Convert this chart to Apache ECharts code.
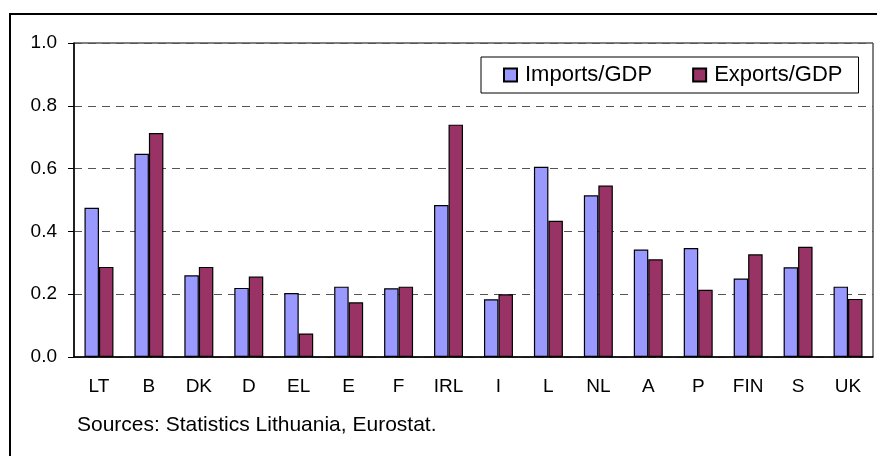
<!DOCTYPE html>
<html>
<head>
<meta charset="utf-8">
<script src="https://cdn.jsdelivr.net/npm/echarts@6/dist/echarts.min.js"></script>
<style>
  html, body { margin: 0; padding: 0; background: #fff; }
  #myChart { width: 877px; height: 456px; }
</style>
</head>
<body>
<div id="myChart"></div>
<script>
// countries (EU members + Lithuania)
const countries = ['LT', 'B', 'DK', 'D', 'EL', 'E', 'F', 'IRL', 'I', 'L', 'NL', 'A', 'P', 'FIN', 'S', 'UK']
// ratios
const importsGdp = [0.475, 0.647, 0.26, 0.22, 0.204, 0.224, 0.219, 0.484, 0.184, 0.606, 0.515, 0.342, 0.347, 0.25, 0.286, 0.224]
const exportsGdp = [0.287, 0.713, 0.287, 0.256, 0.075, 0.174, 0.224, 0.74, 0.2, 0.434, 0.546, 0.311, 0.214, 0.327, 0.351, 0.185]
const yTicks = ['0.0', '0.2', '0.4', '0.6', '0.8', '1.0']
const seriesNames = ['Imports/GDP', 'Exports/GDP']
const sourceNote = 'Sources: Statistics Lithuania, Eurostat.'

const font = '"Liberation Sans", Arial, sans-serif'

let options = {
  animation: false,
  textStyle: { fontFamily: font, color: '#000' },
  graphic: [
    {
      // outer frame
      type: 'rect',
      shape: { x: 10, y: 14, width: 900, height: 500 },
      style: { fill: 'none', stroke: '#000', lineWidth: 2 },
      silent: true
    },
    {
      type: 'text',
      left: 77,
      top: 415,
      style: { text: sourceNote, font: '21px ' + font, fill: '#000' }
    }
  ],
  legend: {
    left: 481,
    top: 57,
    padding: [7, 16, 7, 22],
    borderColor: '#000',
    borderWidth: 1,
    itemWidth: 13,
    itemHeight: 13,
    itemGap: 40,
    icon: 'rect',
    textStyle: { fontSize: 22, fontFamily: font, color: '#000', padding: [0, 0, 0, 3] },
    data: seriesNames
  },
  grid: {
    left: 74,
    right: 4,
    top: 43,
    bottom: 99,
    show: true,
    borderColor: '#000',
    borderWidth: 1
  },
  xAxis: {
    type: 'category',
    data: countries,
    axisLine: { lineStyle: { color: '#000', width: 1.5 } },
    axisTick: { show: false },
    axisLabel: { fontSize: 19, color: '#000', margin: 20, interval: 0 }
  },
  yAxis: {
    type: 'value',
    min: 0,
    max: 1,
    interval: 0.2,
    axisLine: { show: true, lineStyle: { color: '#000', width: 1.5 } },
    axisTick: { show: true, length: 6, lineStyle: { color: '#000' } },
    axisLabel: {
      fontSize: 19,
      color: '#000',
      margin: 17,
      formatter: (v) => yTicks[Math.round(v / 0.2)]
    },
    splitLine: { lineStyle: { color: '#555', type: [8, 6], width: 1 } }
  },
  series: [
    {
      name: seriesNames[0],
      type: 'bar',
      data: importsGdp,
      barGap: '0%',
      barCategoryGap: '42%',
      itemStyle: { color: '#9999FF', borderColor: '#000', borderWidth: 1.2 }
    },
    {
      name: seriesNames[1],
      type: 'bar',
      data: exportsGdp,
      itemStyle: { color: '#993366', borderColor: '#000', borderWidth: 1.2 }
    }
  ]
}

let echart = echarts.init(document.getElementById('myChart'))
echart.setOption(options)
</script>
</body>
</html>
